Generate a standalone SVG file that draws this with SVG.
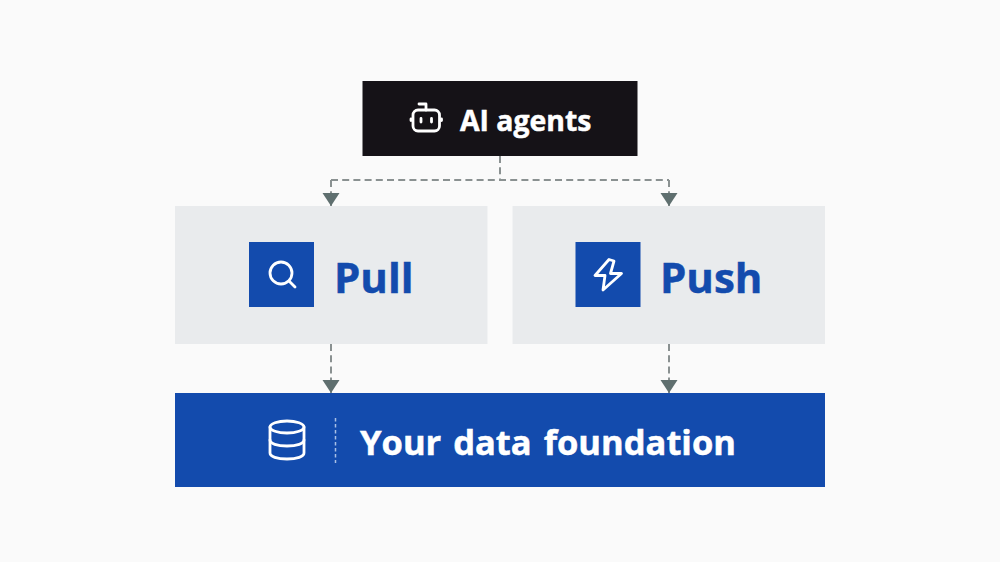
<svg xmlns="http://www.w3.org/2000/svg" width="1000" height="562" viewBox="0 0 1000 562">
<defs>
<marker id="arrow" markerUnits="userSpaceOnUse" markerWidth="14" markerHeight="18" refX="13" refY="9" orient="auto"><path d="M0 0.500L13 9L0 17.500Z" fill="#5f6f6f"/></marker>
</defs>
<style>
.lbl{font-family:"Open Sans","Noto Sans",sans-serif;font-weight:700;stroke-width:0.5}
.w{fill:#fff;stroke:#fff}
.b{fill:#134bad;stroke:#134bad}
.conn{fill:none;stroke:#8a9191;stroke-width:2;stroke-dasharray:7 4.2}
.ic{fill:none;stroke:#fff;stroke-width:2.8;stroke-linecap:round;stroke-linejoin:round}
.panel{fill:#e9ebed}
.blue{fill:#134bad}
</style>
<rect width="1000" height="562" fill="#fafafa"/>
<g id="connectors">
<path class="conn" d="M500 156V180"/>
<path class="conn" d="M331 180H669"/>
<path class="conn" d="M331 180V206" marker-end="url(#arrow)"/>
<path class="conn" d="M669 180V206" marker-end="url(#arrow)"/>
<path class="conn" d="M331 344V393" marker-end="url(#arrow)"/>
<path class="conn" d="M669 344V393" marker-end="url(#arrow)"/>
</g>
<g id="node-agents">
<rect x="362.500" y="81" width="275" height="75" fill="#151217"/>
<g class="ic">
<rect x="413" y="110" width="26.500" height="21" rx="5"/>
<path d="M426 110V104H419"/>
<path d="M411 120.500V119M441.500 120.500V119"/>
<path d="M421 118.500V122M431.500 118.500V122"/>
</g>
<text class="lbl w" x="460" y="131" font-size="28.400" fill="#fff">AI agents</text>
</g>
<g id="node-pull">
<rect class="panel" x="175" y="206" width="312.500" height="138"/>
<rect class="blue" x="249" y="242" width="65" height="65"/>
<g class="ic"><circle cx="281" cy="273" r="11"/><path d="M289 281L295 287"/></g>
<text class="lbl b" x="334" y="293" font-size="42">Pull</text>
</g>
<g id="node-push">
<rect class="panel" x="512.500" y="206" width="312.500" height="138"/>
<rect class="blue" x="575.500" y="242" width="65" height="65"/>
<path class="ic" d="M609 259.500L595 275.500H605L603 290L621.500 273.500H610.500L614 261Z"/>
<text class="lbl b" x="660" y="293" font-size="42">Push</text>
</g>
<g id="node-foundation">
<rect class="blue" x="175" y="393" width="650" height="94"/>
<g class="ic">
<ellipse cx="287" cy="427" rx="17" ry="6"/>
<path d="M270 427V453C270 456.500 277 459 287 459C297 459 304 456.500 304 453V427"/>
<path d="M270 440C270 443.500 277 446 287 446C297 446 304 443.500 304 440"/>
</g>
<path d="M335.500 418V463" fill="none" stroke="#a9c0e6" stroke-width="1.500" stroke-dasharray="3.500 2.500"/>
<text class="lbl w" x="360" y="455" font-size="34.500" word-spacing="3" fill="#fff">Your data foundation</text>
</g>
</svg>
